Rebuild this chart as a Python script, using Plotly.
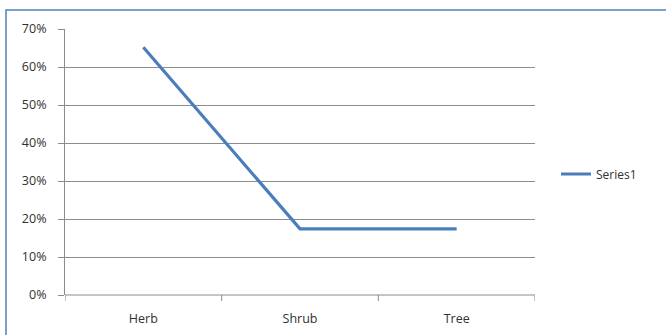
import plotly.graph_objects as go

categories = ["Herb", "Shrub", "Tree"]
series1 = [0.652, 0.174, 0.174]
y_ticks = [0, 0.1, 0.2, 0.3, 0.4, 0.5, 0.6, 0.7]
y_tick_labels = ["0%", "10%", "20%", "30%", "40%", "50%", "60%", "70%"]

W, H = 666, 335
L, R, T, B = 65, 131, 29, 40
pw, ph = W - L - R, H - T - B

fig = go.Figure()
fig.add_trace(go.Scatter(
    x=[0, 1, 2], y=series1, mode="lines", name="Series1",
    line=dict(color="#4A7EBB", width=3.2),
))

font = dict(family="Open Sans, Liberation Sans, sans-serif", size=12.5, color="#303030")

fig.update_layout(
    width=W, height=H,
    margin=dict(l=L, r=R, t=T, b=B, pad=0, autoexpand=False),
    paper_bgcolor="white", plot_bgcolor="white",
    font=font,
    showlegend=True,
    legend=dict(x=1 + (556 - L - pw) / pw, y=1 - (174 - T) / ph, xanchor="left", yanchor="middle",
                font=dict(size=12, color="#303030"), bgcolor="rgba(0,0,0,0)",
                itemwidth=30, tracegroupgap=0),
    xaxis=dict(
        range=[-0.5, 2.5], tickmode="array", tickvals=[0, 1, 2], ticktext=categories,
        showgrid=False, zeroline=False, showline=False, ticks="",
        ticklabelstandoff=14, automargin=False,
    ),
    yaxis=dict(
        range=[0, 0.7], tickmode="array", tickvals=y_ticks, ticktext=y_tick_labels,
        showgrid=True, gridcolor="#8C8C8C", gridwidth=1, zeroline=False,
        showline=True, linecolor="#8C8C8C", linewidth=1,
        ticks="outside", ticklen=6, tickcolor="#8C8C8C", ticklabelstandoff=9,
        automargin=False,
    ),
)

# x axis line and category tick marks (boundaries between categories)
fig.add_shape(type="line", xref="x", yref="paper", x0=-0.5, x1=2.5, y0=0, y1=0,
              line=dict(color="#8C8C8C", width=1))
for b in [-0.5, 0.5, 1.5, 2.5]:
    fig.add_shape(type="line", xref="x", yref="paper", x0=b, x1=b, y0=0, y1=-6 / ph,
                  line=dict(color="#8C8C8C", width=1))

# outer chart border (extends past the canvas on right and bottom)
fig.add_shape(type="rect", xref="paper", yref="paper",
              x0=(6 - L) / pw, x1=(700 - L) / pw,
              y0=1 + (T - 10) / ph, y1=-(360 - T - ph) / ph,
              line=dict(color="#4F81BD", width=1.5), fillcolor="rgba(0,0,0,0)", layer="below")

fig.write_html("out.html", config={"displayModeBar": False},
               post_script="document.body.style.margin='0';document.body.style.overflow='hidden';")
